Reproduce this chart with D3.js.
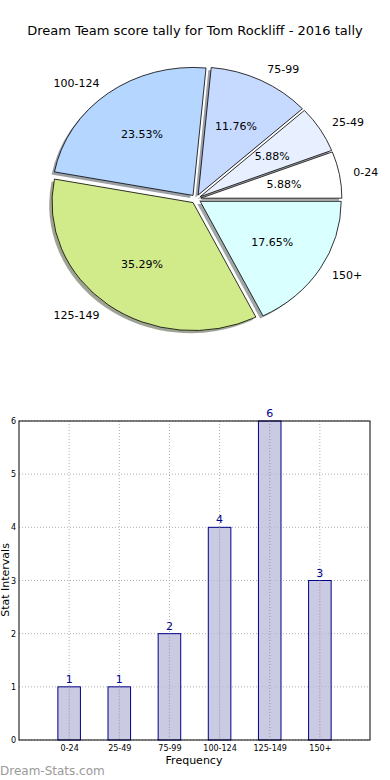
<!DOCTYPE html>
<html>
<head>
<meta charset="utf-8">
<script src="https://cdn.jsdelivr.net/npm/d3@7"></script>
<style>
  body { margin: 0; background: #fff; }
  svg text { font-family: "DejaVu Sans", sans-serif; }
</style>
</head>
<body>
<svg id="chart" width="390" height="780"></svg>
<script>
var categories = ["0-24", "25-49", "75-99", "100-124", "125-149", "150+"];
var counts = [1, 1, 2, 4, 6, 3];
var sliceColors = ["#ffffff", "#e8f0ff", "#c6d9ff", "#b4d6ff", "#d1eb8b", "#d9ffff"];
var yTicks = [0, 1, 2, 3, 4, 5, 6];
var title = "Dream Team score tally for Tom Rockliff - 2016 tally";

var svg = d3.select("#chart");

svg.append("text")
  .attr("x", 195).attr("y", 35)
  .attr("text-anchor", "middle")
  .attr("font-size", 13)
  .text(title);

// ---- pie (matplotlib style: starts at 3 o'clock, counter clockwise, squashed) ----
var cx = 196, cy = 199, rx = 141, ry = 128;
var explode = 0.035;
var total = d3.sum(counts);

var pie = d3.pie().sort(null)
  .startAngle(Math.PI / 2)
  .endAngle(Math.PI / 2 - 2 * Math.PI);
var arcs = pie(counts);
var arc = d3.arc().innerRadius(0).outerRadius(rx);

function mid(d) { return (d.startAngle + d.endAngle) / 2; }
function offX(d) { return explode * rx * Math.sin(mid(d)); }
function offY(d) { return -explode * ry * Math.cos(mid(d)); }

var pieG = svg.append("g");

// shadows first, behind every wedge
pieG.selectAll("path.shadow").data(arcs).enter()
  .append("path")
  .attr("class", "shadow")
  .attr("transform", function(d) {
    return "translate(" + (cx + offX(d) - 0.02 * rx) + "," + (cy + offY(d) + 0.02 * ry) + ") scale(1," + (ry / rx) + ")";
  })
  .attr("d", arc)
  .attr("fill", function(d, i) {
    var c = d3.rgb(sliceColors[i]);
    return d3.rgb(c.r * 0.3, c.g * 0.3, c.b * 0.3);
  })
  .attr("fill-opacity", 0.5);

pieG.selectAll("path.wedge").data(arcs).enter()
  .append("path")
  .attr("class", "wedge")
  .attr("transform", function(d) {
    return "translate(" + (cx + offX(d)) + "," + (cy + offY(d)) + ") scale(1," + (ry / rx) + ")";
  })
  .attr("d", arc)
  .attr("fill", function(d, i) { return sliceColors[i]; })
  .attr("stroke", "#000")
  .attr("stroke-width", 0.8)
  .attr("vector-effect", "non-scaling-stroke");

// category labels at 1.1 radius
pieG.selectAll("text.lab").data(arcs).enter()
  .append("text")
  .attr("class", "lab")
  .attr("x", function(d) { return cx + offX(d) + 1.1 * rx * Math.sin(mid(d)); })
  .attr("y", function(d) { return cy + offY(d) - 1.1 * ry * Math.cos(mid(d)); })
  .attr("dy", "0.35em")
  .attr("font-size", 11)
  .attr("text-anchor", function(d) { return Math.sin(mid(d)) > 0 ? "start" : "end"; })
  .text(function(d, i) { return categories[i]; });

// percentages at 0.6 radius
pieG.selectAll("text.pct").data(arcs).enter()
  .append("text")
  .attr("class", "pct")
  .attr("x", function(d) { return cx + offX(d) + 0.6 * rx * Math.sin(mid(d)); })
  .attr("y", function(d) { return cy + offY(d) - 0.6 * ry * Math.cos(mid(d)); })
  .attr("dy", "0.35em")
  .attr("font-size", 11)
  .attr("text-anchor", "middle")
  .text(function(d) { return (d.value / total * 100).toFixed(2) + "%"; });

// ---- bar chart ----
var plotLeft = 19, plotRight = 370, plotTop = 421, plotBottom = 740;
var idx = d3.range(categories.length);
var xScale = d3.scaleLinear().domain([-1, categories.length]).range([plotLeft, plotRight]);
var yScale = d3.scaleLinear().domain([0, 6]).range([plotBottom, plotTop]);
var barW = 0.45;

var bar = svg.append("g");

// grid
bar.selectAll("line.gx").data(idx).enter()
  .append("line")
  .attr("class", "gx")
  .attr("x1", function(d) { return xScale(d); })
  .attr("x2", function(d) { return xScale(d); })
  .attr("y1", plotTop).attr("y2", plotBottom)
  .attr("stroke", "#b0b0b0").attr("stroke-dasharray", "1,2");

bar.selectAll("line.gy").data(yTicks).enter()
  .append("line")
  .attr("class", "gy")
  .attr("x1", plotLeft).attr("x2", plotRight)
  .attr("y1", function(d) { return yScale(d); })
  .attr("y2", function(d) { return yScale(d); })
  .attr("stroke", "#b0b0b0").attr("stroke-dasharray", "1,2");

bar.selectAll("rect.bar").data(counts).enter()
  .append("rect")
  .attr("class", "bar")
  .attr("x", function(d, i) { return xScale(i - barW / 2); })
  .attr("y", function(d) { return yScale(d); })
  .attr("width", function(d, i) { return xScale(i + barW / 2) - xScale(i - barW / 2); })
  .attr("height", function(d) { return yScale(0) - yScale(d); })
  .attr("fill", "#b8b8d8")
  .attr("fill-opacity", 0.75)
  .attr("stroke", "#00008b")
  .attr("stroke-width", 1);

// grid shows through the bars in the reference
bar.selectAll("line.gx2").data(idx).enter()
  .append("line")
  .attr("class", "gx2")
  .attr("x1", function(d) { return xScale(d); })
  .attr("x2", function(d) { return xScale(d); })
  .attr("y1", function(d) { return yScale(counts[d]); }).attr("y2", plotBottom)
  .attr("stroke", "#9c9cb0").attr("stroke-dasharray", "1,2");

bar.selectAll("text.val").data(counts).enter()
  .append("text")
  .attr("class", "val")
  .attr("x", function(d, i) { return xScale(i); })
  .attr("y", function(d) { return yScale(d) - 4; })
  .attr("text-anchor", "middle")
  .attr("font-size", 11)
  .attr("fill", "#00008b")
  .text(function(d) { return d; });

// frame
bar.append("rect")
  .attr("x", plotLeft).attr("y", plotTop)
  .attr("width", plotRight - plotLeft).attr("height", plotBottom - plotTop)
  .attr("fill", "none").attr("stroke", "#000").attr("stroke-width", 1);

var xAxis = d3.axisBottom(xScale).tickValues(idx)
  .tickFormat(function(i) { return categories[i]; })
  .tickSize(0).tickPadding(5);
var xg = svg.append("g").attr("transform", "translate(0," + plotBottom + ")").call(xAxis);
xg.select(".domain").remove();
xg.selectAll("text").attr("font-size", 8).attr("font-family", "DejaVu Sans");

var yAxis = d3.axisLeft(yScale).tickValues(yTicks).tickFormat(d3.format("d"))
  .tickSize(0).tickPadding(3);
var yg = svg.append("g").attr("transform", "translate(" + plotLeft + ",0)").call(yAxis);
yg.select(".domain").remove();
yg.selectAll("text").attr("font-size", 8).attr("font-family", "DejaVu Sans");

svg.append("text")
  .attr("x", 194).attr("y", 764)
  .attr("text-anchor", "middle")
  .attr("font-size", 11)
  .text("Frequency");

svg.append("text")
  .attr("transform", "translate(9,580) rotate(-90)")
  .attr("text-anchor", "middle")
  .attr("font-size", 11)
  .text("Stat Intervals");

svg.append("text")
  .attr("x", 0).attr("y", 775)
  .attr("font-size", 12)
  .attr("fill", "#9a9a9a")
  .text("Dream-Stats.com");
</script>
</body>
</html>
